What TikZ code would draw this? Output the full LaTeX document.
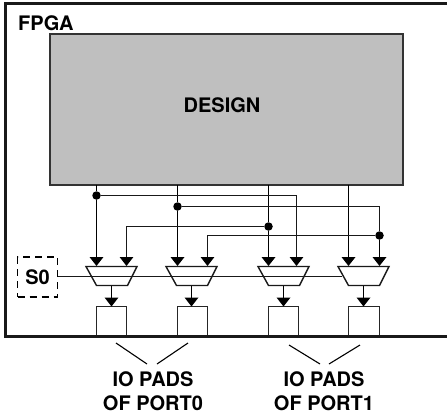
\documentclass[tikz,border=0pt]{standalone}
\usepackage{fontspec}
\setmainfont{TeX Gyre Heros}
\usetikzlibrary{arrows.meta}
\tikzset{
  x=1pt,y=-1pt,
  frame/.style={line width=2.3pt,draw=black!90},
  bus/.style={line width=1.9pt,draw=black},
  thin wire/.style={line width=1.3pt,draw=black!90},
  arrowed/.style={-{Triangle[length=9pt,width=13.5pt,color=black]}},
  junction/.style={circle,fill=black,inner sep=0pt,minimum size=8.5pt},
  txt/.style={font=\fontsize{20}{24}\selectfont\bfseries,text=black,inner sep=0pt,align=center},
  pad/.style={line width=1.3pt,draw=black!85,fill=white,minimum height=30pt,inner sep=0pt,outer sep=0pt,anchor=south west},
  leader/.style={line width=1.1pt,draw=black}
}
\begin{document}
\begin{tikzpicture}
\useasboundingbox (0,0) rectangle (447,416);
% FPGA outline, open on the right
\draw[frame] (447,3.5) -- (5.5,3.5) -- (5.5,336.5) -- (447,336.5);
\node[txt,anchor=base west] (fpga) at (18,30) {FPGA};
% Design block
\node[draw=black!80,line width=2pt,fill=black!25,minimum width=353pt,minimum height=151pt,inner sep=0pt,outer sep=0pt,anchor=north west] (design) at (50,34) {};
\node[txt] (designlabel) at (222,105) {DESIGN};
% Junctions
\node[junction] (j1) at (96.5,195.5) {};
\node[junction] (j2) at (177.5,206.5) {};
\node[junction] (j3) at (268.5,226.5) {};
\node[junction] (j4) at (379.5,235.5) {};
% Design pins and mux inputs
\coordinate (d1) at (96.5,185); \coordinate (d2) at (177.5,185);
\coordinate (d3) at (268.5,185); \coordinate (d4) at (348.5,185);
\coordinate (a1) at (96.5,266); \coordinate (b1) at (126.5,266);
\coordinate (a2) at (177.5,266); \coordinate (b2) at (207.5,266);
\coordinate (a3) at (268.5,266); \coordinate (b3) at (296.5,266);
\coordinate (a4) at (348.5,266); \coordinate (b4) at (379.5,266);
% Select line
\node[draw=black,dash pattern=on 7pt off 5pt,line width=1.9pt,minimum width=40pt,minimum height=40pt,inner sep=0pt,outer sep=0pt] (s0) at (37.5,277) {};
\node[txt] (s0text) at (s0.center) {S0};
\coordinate (selend) at (341.5,276.5);
\draw[thin wire] (s0.east |- selend) -- (selend);
% Mux bodies (select line shows through them)
\foreach \n/\l in {1/86,2/166,3/258,4/338}{
  \draw[line width=1.4pt,draw=black!90]
    (\l,266.5) -- (\l+51,266.5) -- (\l+41.5,285.5) -- (\l+10.5,285.5) -- cycle;
  \coordinate (m\n) at (\l+25.5,285.5);
}
% Wires from design
\draw[bus,arrowed] (d1) -- (j1) -- (a1);
\draw[bus,arrowed] (d2) -- (j2) -- (a2);
\draw[bus,arrowed] (d3) -- (j3) -- (a3);
\draw[bus,arrowed] (d4) -- (a4);
\draw[bus,arrowed] (j4) -- (b4);
% Cross connections
\draw[thin wire,arrowed] (j1) -- (b3 |- j1) -- (b3);
\draw[thin wire] (j2) -- (b4 |- j2) -- (j4);
\draw[thin wire,arrowed] (j3) -- (b1 |- j3) -- (b1);
\draw[thin wire,arrowed] (j4) -- (b2 |- j4) -- (b2);
% Pads
\node[pad,minimum width=30pt] (p1) at (96.5,336.5) {};
\node[pad,minimum width=30pt] (p2) at (177.5,336.5) {};
\node[pad,minimum width=30pt] (p3) at (268.5,336.5) {};
\node[pad,minimum width=31pt] (p4) at (348.5,336.5) {};
\draw[frame] (5.5,336.5) -- (447,336.5);
% Outputs
\draw[bus,arrowed] (m1) -- (m1 |- p1.north);
\draw[bus,arrowed] (m2) -- (m2 |- p2.north);
\draw[bus,arrowed] (m3) -- (m3 |- p3.north);
\draw[bus,arrowed] (m4) -- (m4 |- p4.north);
% Captions
\node[txt] (port0) at (153,391) {IO PADS\\OF PORT0};
\node[txt] (port1) at (324,391) {IO PADS\\OF PORT1};
\coordinate (t0l) at (147,364); \coordinate (t0r) at (157,364);
\coordinate (t1l) at (320,364); \coordinate (t1r) at (329,364);
\draw[leader] (116,343) -- (t0l);
\draw[leader] (188,343) -- (t0r);
\draw[leader] (289,345) -- (t1l);
\draw[leader] (360,345) -- (t1r);
\end{tikzpicture}
\end{document}
